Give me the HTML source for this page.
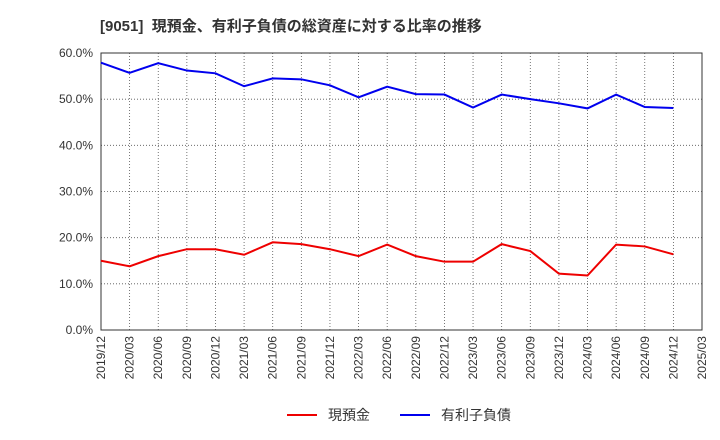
<!DOCTYPE html>
<html><head><meta charset="utf-8"><style>
body{margin:0;background:#fff;}
svg{display:block;font-family:"Liberation Sans","Noto Sans CJK JP",sans-serif;}
</style></head><body>
<svg id="chart" width="720" height="440">
<text x="100" y="31" font-size="15" font-weight="bold" fill="#333" xml:space="preserve">[9051]  現預金、有利子負債の総資産に対する比率の推移</text>
<g id="grid"></g><g id="axes"></g><g id="series"></g>
<g>
<line x1="287" y1="415" x2="317" y2="415" stroke="#e00" stroke-width="2"/>
<text x="328" y="420" font-size="14" fill="#333">現預金</text>
<line x1="400" y1="415" x2="430" y2="415" stroke="#00e" stroke-width="2"/>
<text x="441" y="420" font-size="14" fill="#333">有利子負債</text>
</g>
</svg>
<script>
const categories=["2019/12","2020/03","2020/06","2020/09","2020/12","2021/03","2021/06","2021/09","2021/12","2022/03","2022/06","2022/09","2022/12","2023/03","2023/06","2023/09","2023/12","2024/03","2024/06","2024/09","2024/12","2025/03"];
const debtValues=[57.9,55.7,57.8,56.2,55.6,52.8,54.5,54.3,53.0,50.4,52.7,51.1,51.0,48.2,51.0,50.0,49.1,48.0,51.0,48.3,48.1];
const cashValues=[15.0,13.8,16.0,17.5,17.5,16.3,19.0,18.6,17.5,16.0,18.5,16.0,14.8,14.8,18.6,17.1,12.2,11.8,18.5,18.1,16.4];
const yTicks=[0,10,20,30,40,50,60];
const ns="http://www.w3.org/2000/svg";
const L=101,R=702,T=53,B=330;
const x=i=>L+i*(R-L)/(categories.length-1);
const y=v=>B-(v/60)*(B-T);
function mk(tag,attrs,parent){const e=document.createElementNS(ns,tag);for(const k in attrs)e.setAttribute(k,attrs[k]);parent.appendChild(e);return e;}
const grid=document.getElementById('grid'),axes=document.getElementById('axes'),series=document.getElementById('series');
categories.forEach((c,i)=>{
 const g=mk('line',{x1:x(i),x2:x(i),y1:T,y2:B,stroke:'#555','stroke-width':0.8,'stroke-dasharray':'1,2'},grid);
 
 
 const t=mk('text',{x:0,y:0,'font-size':12,fill:'#333','text-anchor':'end',transform:`translate(${x(i)+4},${B+6}) rotate(-90)`},axes);
 t.textContent=c;
 
 
});
yTicks.forEach(v=>{
 const g=mk('line',{x1:L,x2:R,y1:y(v),y2:y(v),stroke:'#555','stroke-width':0.8,'stroke-dasharray':'1,2'},grid);
 
 
 const t=mk('text',{x:L-8,y:y(v)+4,'font-size':12,fill:'#333','text-anchor':'end'},axes);
 t.textContent=v.toFixed(1)+'%';
 
 
});
const frame=mk('rect',{x:L,y:T,width:R-L,height:B-T,fill:'none',stroke:'#333','stroke-width':1},axes);


const p1=mk('polyline',{points:cashValues.map((v,i)=>x(i)+','+y(v)).join(' '),fill:'none',stroke:'#e00','stroke-width':2},series);


const p2=mk('polyline',{points:debtValues.map((v,i)=>x(i)+','+y(v)).join(' '),fill:'none',stroke:'#00e','stroke-width':2},series);


</script>
</body></html>
